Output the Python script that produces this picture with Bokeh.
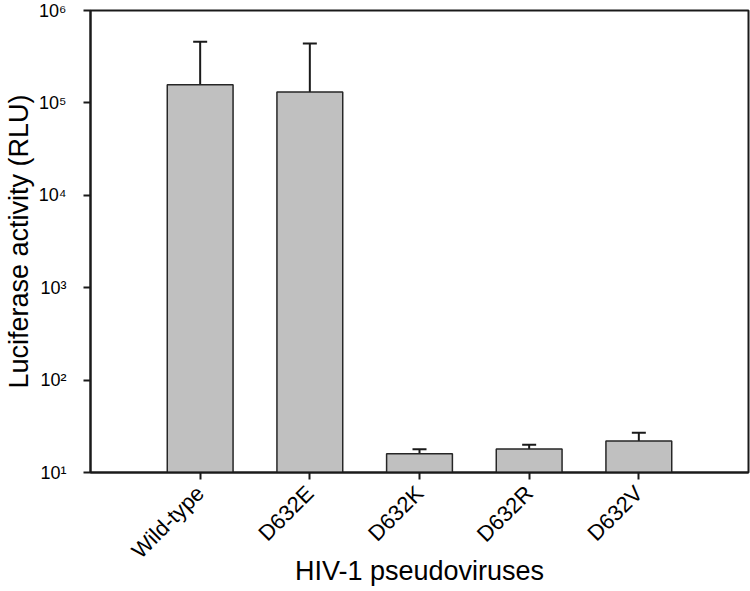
import numpy as np
from bokeh.plotting import figure
from bokeh.models import ColumnDataSource, Range1d, FixedTicker, Whisker, TeeHead
from bokeh.embed import file_html
from bokeh.resources import INLINE

# ---- data ----
categories = ["Wild-type", "D632E", "D632K", "D632R", "D632V"]
activity = [1.57e5, 1.31e5, 16.0, 18.0, 21.9]
error_up = [3.03e5, 3.09e5, 1.9, 2.0, 5.0]
y_exponents = [1, 2, 3, 4, 5, 6]

FONT = "Liberation Sans"
SUP = {"0": "⁰", "1": "¹", "2": "²", "3": "³", "4": "⁴", "5": "⁵",
       "6": "⁶", "7": "⁷", "8": "⁸", "9": "⁹"}

xs = list(range(1, len(categories) + 1))
src = ColumnDataSource(dict(
    x=xs,
    top=activity,
    bottom=[10 ** y_exponents[0]] * len(xs),
    upper=[a + e for a, e in zip(activity, error_up)],
))

p = figure(width=750, height=590, output_backend="svg", toolbar_location=None,
           y_axis_type="log",
           x_range=Range1d(0, len(categories) + 1),
           y_range=Range1d(10 ** y_exponents[0], 10 ** y_exponents[-1]),
           min_border_left=89, min_border_right=2, min_border_top=10,
           min_border_bottom=118)

p.xgrid.visible = False
p.ygrid.visible = False
p.outline_line_color = "#1a1a1a"
p.outline_line_width = 2
p.background_fill_color = "white"
p.border_fill_color = "white"

p.vbar(x="x", width=0.6, bottom="bottom", top="top", source=src,
       fill_color="#c0c0c0", line_color="#262626", line_width=1.5)

wh = Whisker(base="x", upper="upper", lower="top", source=src,
             dimension="height", line_color="#1a1a1a", line_width=2,
             upper_head=TeeHead(size=14, line_width=2, line_color="#1a1a1a"),
             lower_head=None)
p.add_layout(wh)

# x axis
xa = p.xaxis[0]
xa.ticker = FixedTicker(ticks=xs, minor_ticks=[])
xa.major_label_overrides = {x: c for x, c in zip(xs, categories)}
xa.major_label_orientation = np.pi / 4
xa.major_label_text_font = FONT
xa.major_label_text_font_size = "22px"
xa.major_label_text_color = "black"
xa.major_label_standoff = 10
xa.axis_line_width = 2
xa.axis_line_color = "#1a1a1a"
xa.major_tick_line_width = 2
xa.major_tick_line_color = "#1a1a1a"
xa.major_tick_out = 7
xa.major_tick_in = 0
xa.minor_tick_line_color = None
xa.axis_label = "HIV-1 pseudoviruses"
xa.axis_label_text_font = FONT
xa.axis_label_text_font_size = "27px"
xa.axis_label_text_font_style = "normal"
xa.axis_label_text_color = "black"
xa.axis_label_standoff = -19

# y axis
ya = p.yaxis[0]
y_ticks = [10 ** k for k in y_exponents]
ya.ticker = FixedTicker(ticks=y_ticks, minor_ticks=[])
ya.major_label_overrides = {t: "10" + "".join(SUP[c] for c in str(k))
                            for t, k in zip(y_ticks, y_exponents)}
ya.major_label_text_font = FONT
ya.major_label_text_font_size = "18px"
ya.major_label_text_color = "black"
ya.major_label_standoff = 17
ya.axis_line_width = 2
ya.axis_line_color = "#1a1a1a"
ya.major_tick_line_width = 2
ya.major_tick_line_color = "#1a1a1a"
ya.major_tick_out = 7
ya.major_tick_in = 0
ya.minor_tick_line_color = None
ya.axis_label = "Luciferase activity (RLU)"
ya.axis_label_text_font = FONT
ya.axis_label_text_font_size = "27px"
ya.axis_label_text_font_style = "normal"
ya.axis_label_text_color = "black"
ya.axis_label_standoff = 2

open("out.html", "w").write(file_html(p, INLINE))
